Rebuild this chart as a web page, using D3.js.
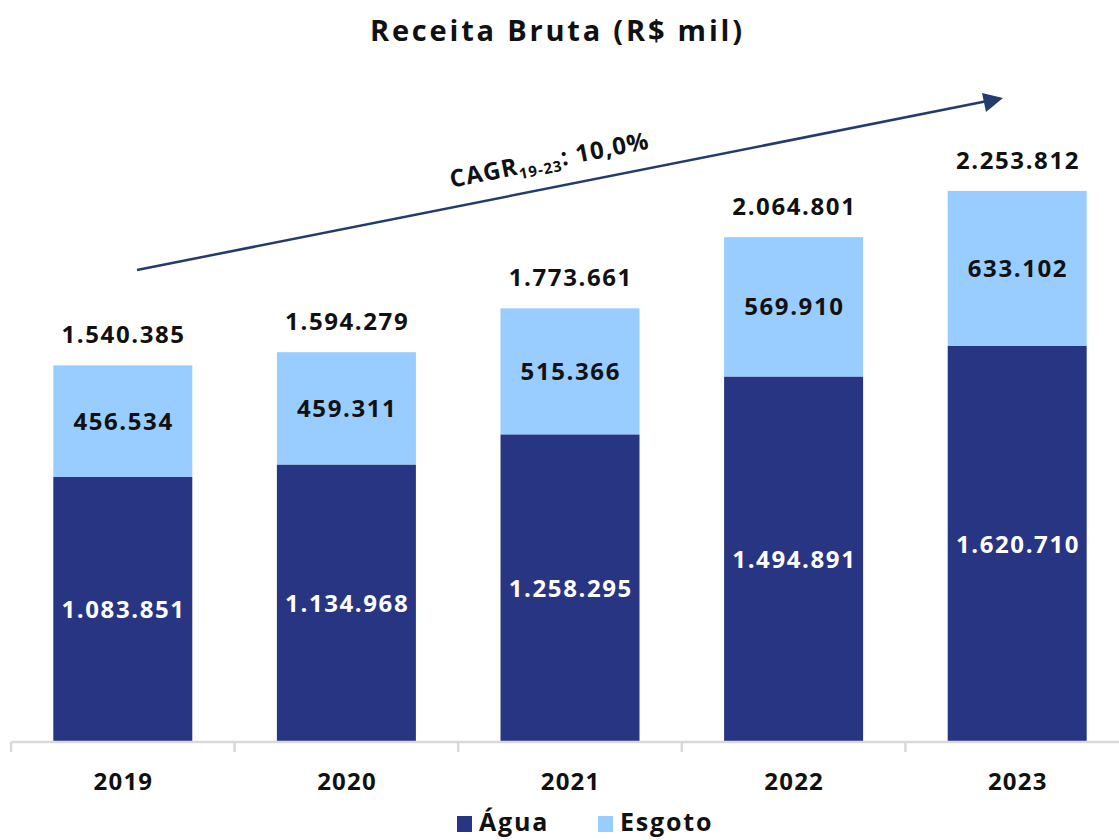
<!DOCTYPE html>
<html><head><meta charset="utf-8">
<script src="https://cdn.jsdelivr.net/npm/d3@7"></script>
<style>
body{margin:0;background:#fff;}
text{font-family:"Open Sans",sans-serif;font-weight:700;}
</style></head>
<body>
<svg id="chart" width="1119" height="840"></svg>
<script>
const years = ["2019","2020","2021","2022","2023"];
const agua = [1083851,1134968,1258295,1494891,1620710];
const esgoto = [456534,459311,515366,569910,633102];
const totals = [1540385,1594279,1773661,2064801,2253812];
const seriesNames = ["Água","Esgoto"];
const colors = ["#283583","#99CCFF"];

const fmt = v => d3.format(",")(v).replace(/,/g,".");
const svg = d3.select("#chart");

const x = d3.scaleBand().domain(years).range([11,1129]).paddingInner(0).paddingOuter(0);
const barW = 139;
const y = d3.scaleLinear().domain([0,2500000]).range([742,130.75]);

const data = years.map((yr,i)=>({year:yr, "Água":agua[i], "Esgoto":esgoto[i], total:totals[i]}));
const stack = d3.stack().keys(seriesNames)(data);

function lsText(sel, ls){ sel.attr("letter-spacing",ls).attr("dx",ls/2); }

svg.append("text").attr("x",556).attr("y",41).attr("text-anchor","middle")
  .attr("font-size",29).attr("fill","#111").call(lsText,2.8).text("Receita Bruta (R$ mil)");

const bx = d => x(d.data.year) + (x.bandwidth()-barW)/2;

stack.forEach((layer,li)=>{
  svg.append("g").selectAll("rect").data(layer).join("rect")
    .attr("x",bx).attr("width",barW)
    .attr("y",d=>y(d[1])).attr("height",d=>y(d[0])-y(d[1]))
    .attr("fill",colors[li]);
  svg.append("g").selectAll("text").data(layer).join("text")
    .attr("x",d=>x(d.data.year)+x.bandwidth()/2)
    .attr("y",d=>(y(d[0])+y(d[1]))/2)
    .attr("dy","0.36em").attr("text-anchor","middle")
    .attr("font-size",24).call(lsText,1.6).attr("fill",li===0?"#fff":"#111")
    .text(d=>fmt(d[1]-d[0]));
});

svg.append("g").selectAll("text").data(data).join("text")
  .attr("x",d=>x(d.year)+x.bandwidth()/2)
  .attr("y",d=>y(d.total)-31)
  .attr("dy","0.36em").attr("text-anchor","middle")
  .attr("font-size",24).call(lsText,1.6).attr("fill","#111")
  .text(d=>fmt(d.total));

// axis
const ax = svg.append("g").attr("transform","translate(0,742)")
  .call(d3.axisBottom(x).tickSize(0).tickPadding(30).tickFormat(d=>d));
ax.select(".domain").attr("stroke","#d9d9d9").attr("stroke-width",2.5).attr("d","M11,0H1119");
ax.selectAll("text").attr("font-size",24).attr("fill","#111").style("font-family","'Open Sans',sans-serif").style("font-weight","700")
  .attr("letter-spacing",1.2).attr("dx",0.6).attr("dy","0.36em").attr("y",39);
svg.append("g").selectAll("line").data(years).join("line")
  .attr("x1",d=>x(d)).attr("x2",d=>x(d)).attr("y1",742).attr("y2",752)
  .attr("stroke","#d9d9d9").attr("stroke-width",2.5);

// arrow
const x0=137,y0=270,x1=1003,y1=98;
svg.append("line").attr("x1",x0).attr("y1",y0).attr("x2",x1-3).attr("y2",y1+0.6)
  .attr("stroke","#243B6B").attr("stroke-width",2.5);
svg.append("path").attr("d",`M${x1},${y1} L${x1-21},${y1-5} L${x1-17},${y1+14} Z`).attr("fill","#243B6B");
const ang = Math.atan2(y1-y0,x1-x0)*180/Math.PI;
const t = svg.append("text").attr("transform",`translate(551,168) rotate(${ang})`)
  .attr("text-anchor","middle").attr("font-size",24).attr("letter-spacing",1).attr("fill","#111");
t.append("tspan").text("CAGR");
t.append("tspan").attr("font-size",15).attr("dy",5).text("19-23");
t.append("tspan").attr("dy",-5).text(": 10,0%");

// legend
const lg = svg.append("g");
const lx=[457,598];
seriesNames.forEach((n,i)=>{
  lg.append("rect").attr("x",lx[i]).attr("y",816).attr("width",15).attr("height",16).attr("fill",colors[i]);
  lg.append("text").attr("x",lx[i]+22).attr("y",822).attr("dy","0.36em").attr("font-size",25).attr("letter-spacing",1.8).attr("fill","#111").text(n);
});
</script>
</body></html>
